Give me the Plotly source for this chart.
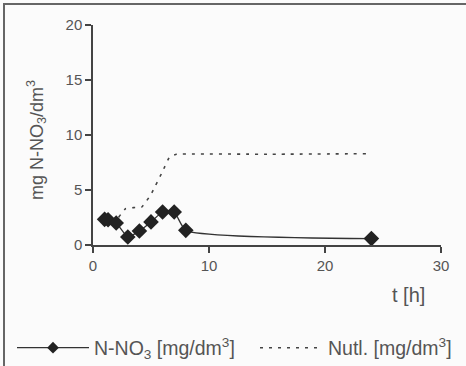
import plotly.graph_objects as go

# Data
t_no3 = [1, 1.3, 2, 3, 4, 5, 6, 7, 8, 24]
n_no3 = [2.33, 2.3, 2.0, 0.73, 1.27, 2.1, 3.0, 3.0, 1.33, 0.58]

t_nutl = [2.2, 2.8, 3.5, 4.2, 5.0, 6.0, 6.6, 7.2, 15, 23.6]
nutl = [2.5, 3.3, 3.4, 3.45, 4.6, 6.7, 8.0, 8.25, 8.25, 8.3]

x_ticks = [0, 10, 20, 30]
y_ticks = [0, 5, 10, 15, 20]

FONT = "Liberation Sans, Arial, sans-serif"
TXT = "#555555"
AX = "#444444"

fig = go.Figure()
fig.add_trace(go.Scatter(
    x=t_no3, y=n_no3, mode="lines+markers", showlegend=False,
    line=dict(color="#333333", width=1.3, shape="spline", smoothing=0.5),
    marker=dict(symbol="diamond", size=12, color="#222222"),
))
fig.add_trace(go.Scatter(
    x=t_nutl, y=nutl, mode="lines", showlegend=False,
    line=dict(color="#444444", width=1.6, dash="3px,6px", shape="spline", smoothing=0.3),
))
# legend entries (no data drawn)
fig.add_trace(go.Scatter(
    x=[None], y=[None], mode="lines+markers", legend="legend",
    name="N-NO<sub>3</sub> [mg/dm<sup>3</sup>]",
    line=dict(color="#333333", width=1.3),
    marker=dict(symbol="diamond", size=9, color="#222222"),
))
fig.add_trace(go.Scatter(
    x=[None], y=[None], mode="lines", legend="legend2",
    name="Nutl. [mg/dm<sup>3</sup>]",
    line=dict(color="#444444", width=1.6, dash="3px,6px"),
))

L, R, T, B = 93, 25, 25, 121
W, H = 466, 366
pw, ph = W - L - R, H - T - B

def px(xp):
    return (xp - L) / pw

def py(yp):
    return (H - B - yp) / ph

leg_common = dict(orientation="h", xref="container", yref="container",
                  xanchor="left", yanchor="middle",
                  font=dict(size=19.5, color=TXT), bgcolor="rgba(0,0,0,0)")

fig.update_layout(
    width=W, height=H,
    margin=dict(l=L, r=R, t=T, b=B),
    paper_bgcolor="#fbfbfb", plot_bgcolor="#fbfbfb",
    font=dict(family=FONT, color=TXT, size=15),
    showlegend=True,
    legend=dict(x=12 / W, y=1 - 348 / H, itemwidth=72, **leg_common),
    legend2=dict(x=255 / W, y=1 - 348 / H, itemwidth=63, **leg_common),
    xaxis=dict(range=[0, 30], tickvals=x_ticks, showgrid=False, zeroline=False, automargin=False,
               showline=True, linecolor=AX, linewidth=1.5, ticks="outside", ticklen=6,
               tickcolor=AX, tickwidth=1.5, tickfont=dict(size=15, color=TXT)),
    yaxis=dict(range=[0, 20], tickvals=y_ticks, showgrid=False, zeroline=False, automargin=False,
               showline=True, linecolor=AX, linewidth=1.5, ticks="outside", ticklen=6,
               tickcolor=AX, tickwidth=1.5, tickfont=dict(size=15, color=TXT)),
    annotations=[
        dict(text="t [h]", x=px(408), y=py(295), xref="paper", yref="paper",
             xanchor="center", yanchor="middle",
             showarrow=False, font=dict(size=20, color=TXT)),
        dict(text="mg N-NO<sub>3</sub>/dm<sup>3</sup>", x=px(36), y=py(140), xref="paper", yref="paper",
             xanchor="center", yanchor="middle",
             showarrow=False, textangle=-90, font=dict(size=18, color=TXT)),
    ],
    shapes=[dict(type="rect", xref="paper", yref="paper",
                 x0=px(4), x1=px(480), y0=py(380), y1=py(4),
                 line=dict(color="#666666", width=2), layer="below")],
)

fig.write_html("out.html", config={"displayModeBar": False},
               post_script="document.body.style.margin='0';document.body.style.background='#fbfbfb';")
